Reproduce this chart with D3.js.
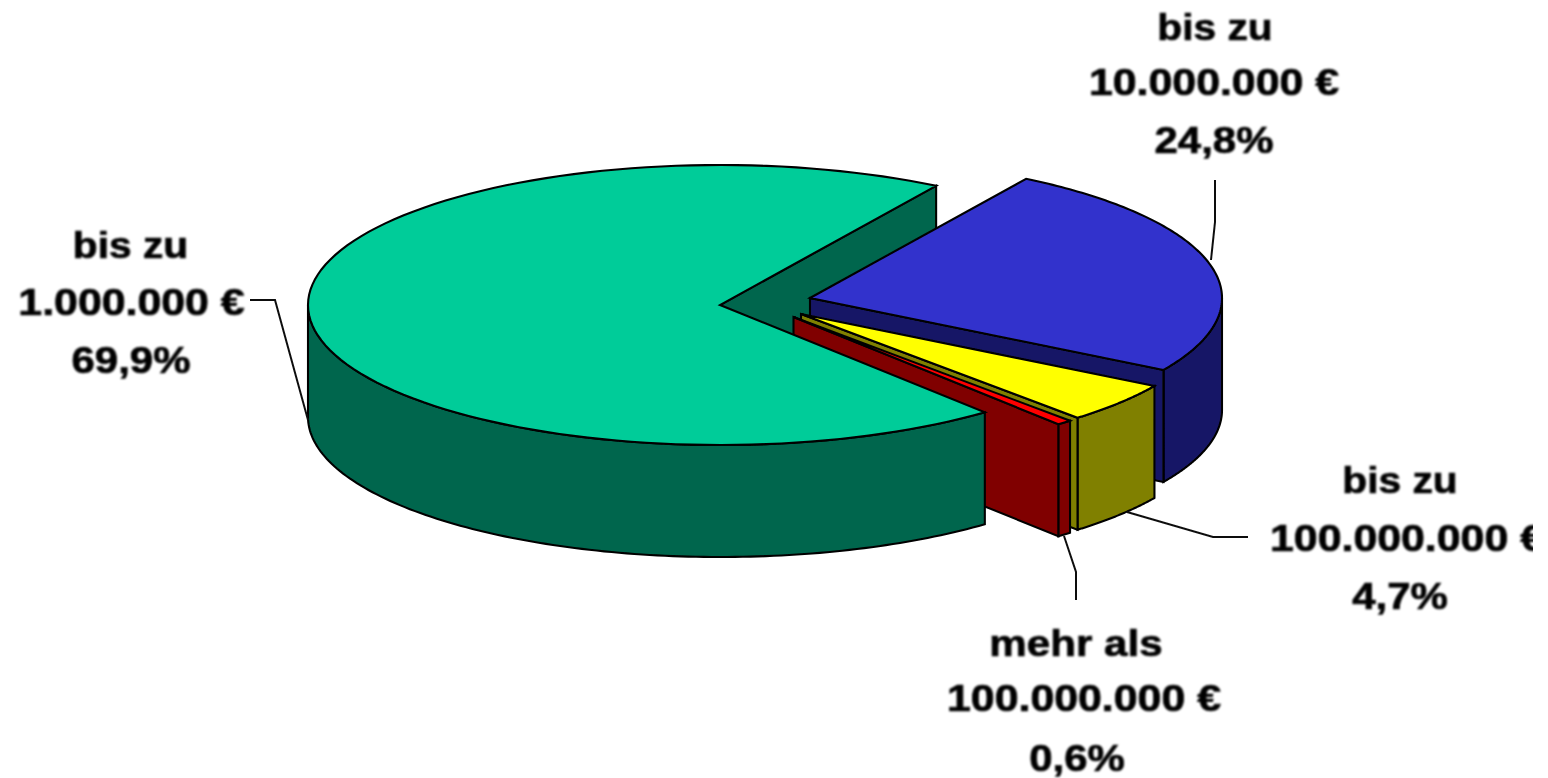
<!DOCTYPE html>
<html><head><meta charset="utf-8">
<script src="https://cdn.jsdelivr.net/npm/d3@7"></script>
<style>html,body{margin:0;padding:0;background:#fff;overflow:hidden}svg{display:block}</style>
</head><body><svg id="c" width="1548" height="778"></svg>
<script>
// Data
const categories = ["bis zu 1.000.000 €","bis zu 10.000.000 €","bis zu 100.000.000 €","mehr als 100.000.000 €"];
const shares = [69.9, 24.8, 4.7, 0.6];
const labelLines = [["bis zu","1.000.000 €","69,9%"],["bis zu","10.000.000 €","24,8%"],["bis zu","100.000.000 €","4,7%"],["mehr als","100.000.000 €","0,6%"]];
const topColors = ["#00CC99","#3333CC","#FFFF00","#FF0000"];
const wallColors = ["#00664D","#191966","#808000","#800000"];

// Layout
const rx = 412, ry = 140, depth = 112;
const centers = [[720,305],[810,298],[801,314],[793.5,317]];
const labelX = [[130.5,131.5,131],[1215,1214,1214],[1400,1407,1400],[1076,1084,1077]];
const labelY = [[258,315,373],[40,95,153],[493,551,609],[656,711,771]];
const stretch = [1.13,1.19,1.165];
const stretchOther = {"mehr als":1.17};
const leaders = [[[250,300],[275,300],[308,420]],[[1215,180],[1215,222],[1211,260]],[[1127,512],[1213,537],[1248,537]],[[1064,536],[1076,572],[1076,600]]];

const svg = d3.select("#c");
const defs = svg.append("defs");
defs.append("filter").attr("id","soft").append("feGaussianBlur").attr("stdDeviation",0.8);
defs.append("filter").attr("id","edge").append("feGaussianBlur").attr("stdDeviation",0.4);
defs.append("clipPath").attr("id","crop").append("rect").attr("x",0).attr("y",0).attr("width",1533).attr("height",778);

const arcs = d3.pie().sort(null).startAngle(140*Math.PI/180).endAngle(500*Math.PI/180)(shares);
const scr = a => a - Math.PI/2;
const X = d3.scaleLinear().domain([-1,1]).range([-rx,rx]);
const Y = d3.scaleLinear().domain([-1,1]).range([-ry,ry]);
const line = d3.line();
const pt = (i,t,dz=0) => [centers[i][0]+X(Math.cos(t)), centers[i][1]+Y(Math.sin(t))+dz];
const sample = (i,t0,t1,dz=0) => d3.range(0,121).map(k => pt(i,t0+(t1-t0)*k/120,dz));
const g = svg.append("g").attr("filter","url(#edge)");
const shape = (pts,fill) => g.append("path").attr("d",line(pts)+"Z").attr("fill",fill).attr("stroke","#000").attr("stroke-width",2.1).attr("stroke-linejoin","miter");

function drawTop(i){
  const a = arcs[i];
  shape([centers[i],...sample(i,scr(a.startAngle),scr(a.endAngle))],topColors[i]);
}
function cutWall(i,t){
  const c = centers[i], p = pt(i,t);
  shape([c,p,[p[0],p[1]+depth],[c[0],c[1]+depth]],wallColors[i]);
}
function outer(i){
  // Only the part of the rim that faces the viewer
  const a = arcs[i];
  let ranges = [];
  for (const k of [0,1]) {
    const lo = Math.max(scr(a.startAngle), 2*k*Math.PI), hi = Math.min(scr(a.endAngle), 2*k*Math.PI+Math.PI);
    if (hi>lo) ranges.push([lo,hi]);
  }
  ranges.forEach(([lo,hi]) => {
    const up = sample(i,lo,hi), down = sample(i,lo,hi,depth).reverse();
    shape([...up,...down],wallColors[i]);
  });
}
const tEnd = i => scr(arcs[i].endAngle);

// back to front
cutWall(0,tEnd(0));
// blue
outer(1); cutWall(1,tEnd(1)); drawTop(1);
// yellow
outer(2); cutWall(2,tEnd(2)); drawTop(2);
// red
outer(3); cutWall(3,tEnd(3)); drawTop(3);
// green in front
outer(0); drawTop(0);

// leader lines
svg.append("g").attr("filter","url(#edge)").selectAll("path").data(leaders).join("path")
  .attr("d",d=>line(d)).attr("fill","none").attr("stroke","#111").attr("stroke-width",2);

// labels
const T = svg.append("g").attr("clip-path","url(#crop)").append("g").attr("filter","url(#soft)");
labelLines.forEach((ls,i)=>{
  ls.forEach((s,j)=>{
    const t = T.append("text").attr("x",labelX[i][j]).attr("y",labelY[i][j])
      .attr("text-anchor","middle").attr("font-family","Liberation Sans, Arial, sans-serif")
      .attr("font-weight","bold").attr("font-size",36).attr("fill","#000")
      .attr("stroke","#000").attr("stroke-width",0.7).text(s);
    const w = t.node().getComputedTextLength();
    t.attr("textLength",w*(stretchOther[s]||stretch[j])).attr("lengthAdjust","spacingAndGlyphs");
  });
});
</script></body></html>
